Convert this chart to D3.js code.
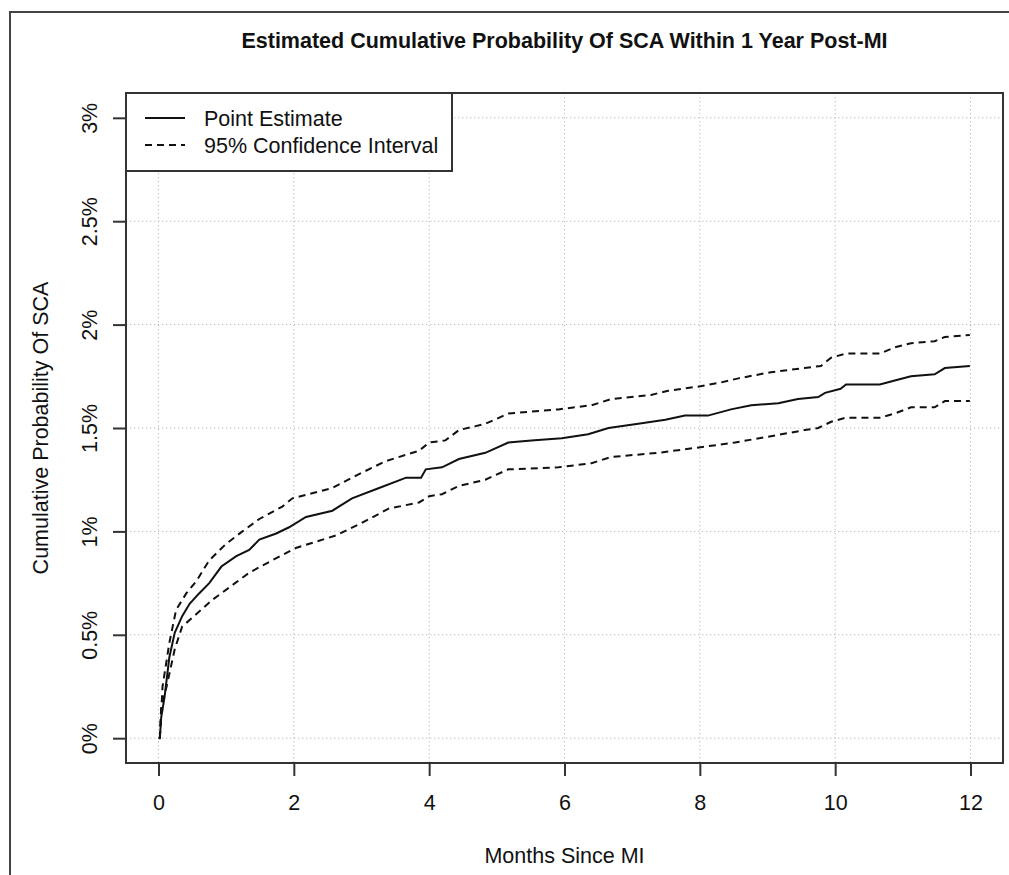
<!DOCTYPE html>
<html>
<head>
<meta charset="utf-8">
<script src="https://cdn.jsdelivr.net/npm/d3@7"></script>
<style>
  body { margin: 0; background: #fff; }
  text { font-family: "Liberation Sans", Arial, sans-serif; fill: #111; }
</style>
</head>
<body>
<script>
var svgWidth = 1009;
var svgHeight = 875;

var chartMargin = {
    top: 93,
    right: 6,
    bottom: 112,
    left: 126
}

var chartWidth = svgWidth - chartMargin.left - chartMargin.right;
var chartHeight = svgHeight - chartMargin.top - chartMargin.bottom;

// data (months since MI, cumulative probability in %)
var estMonths = [0, 0.02, 0.04, 0.09, 0.16, 0.24, 0.35, 0.46, 0.60, 0.75, 0.93, 1.15, 1.34, 1.49, 1.74, 1.93,
    2.18, 2.57, 2.86, 3.26, 3.66, 3.88, 3.95, 4.19, 4.44, 4.83, 5.17, 5.51, 5.96, 6.35, 6.65, 7.09, 7.49, 7.78,
    8.12, 8.46, 8.76, 9.16, 9.45, 9.75, 9.85, 10.08, 10.16, 10.66, 10.88, 11.12, 11.47, 11.62, 11.99];
var estValues = [0, 0, 0.10, 0.20, 0.39, 0.51, 0.59, 0.65, 0.70, 0.75, 0.83, 0.88, 0.91, 0.96, 0.99, 1.02,
    1.07, 1.10, 1.16, 1.21, 1.26, 1.26, 1.30, 1.31, 1.35, 1.38, 1.43, 1.44, 1.45, 1.47, 1.50, 1.52, 1.54, 1.56,
    1.56, 1.59, 1.61, 1.62, 1.64, 1.65, 1.67, 1.69, 1.71, 1.71, 1.73, 1.75, 1.76, 1.79, 1.80];

var upperMonths = [0.02, 0.06, 0.16, 0.26, 0.41, 0.56, 0.75, 1.00, 1.24, 1.49, 1.83, 1.98, 2.57, 2.92, 3.36,
    3.85, 4.00, 4.24, 4.44, 4.83, 5.17, 5.91, 6.40, 6.69, 7.28, 7.53, 7.97, 8.31, 8.57, 9.05, 9.55, 9.79, 9.94,
    10.16, 10.66, 10.88, 11.12, 11.47, 11.62, 11.99];
var upperValues = [0, 0.25, 0.46, 0.62, 0.70, 0.76, 0.86, 0.94, 1.00, 1.06, 1.12, 1.16, 1.21, 1.27, 1.34,
    1.39, 1.43, 1.44, 1.49, 1.52, 1.57, 1.59, 1.61, 1.64, 1.66, 1.68, 1.70, 1.72, 1.74, 1.77, 1.79, 1.80, 1.84,
    1.86, 1.86, 1.89, 1.91, 1.92, 1.94, 1.95];

var lowerMonths = [0.02, 0.04, 0.12, 0.24, 0.35, 0.56, 0.80, 1.05, 1.34, 1.68, 2.03, 2.62, 3.00, 3.40, 3.85,
    4.00, 4.19, 4.44, 4.83, 5.17, 5.91, 6.40, 6.69, 7.39, 8.08, 8.52, 9.05, 9.55, 9.75, 9.94, 10.16, 10.66,
    10.88, 11.12, 11.47, 11.62, 11.99];
var lowerValues = [0, 0.15, 0.25, 0.43, 0.54, 0.60, 0.67, 0.73, 0.80, 0.86, 0.92, 0.98, 1.04, 1.11, 1.14,
    1.17, 1.18, 1.22, 1.25, 1.30, 1.31, 1.33, 1.36, 1.38, 1.41, 1.43, 1.46, 1.49, 1.50, 1.53, 1.55, 1.55,
    1.57, 1.60, 1.60, 1.63, 1.63];

var xTicks = [0, 2, 4, 6, 8, 10, 12];
var yTicks = [0, 0.5, 1, 1.5, 2, 2.5, 3];
var yTickLabels = ["0%", "0.5%", "1%", "1.5%", "2%", "2.5%", "3%"];
var legendLabels = ["Point Estimate", "95% Confidence Interval"];

var svg = d3.select('body').append('svg')
    .attr('width', svgWidth)
    .attr('height', svgHeight);

// outer frame
svg.append("rect")
    .attr("x", 10).attr("y", 12)
    .attr("width", 1010).attr("height", 880)
    .attr("fill", "none")
    .attr("stroke", "#444")
    .attr("stroke-width", 2);

var chartGroup = svg.append("g")
    .attr("transform", `translate(${chartMargin.left}, ${chartMargin.top})`);

// R style: 4% padding on both axes
var xScale = d3.scaleLinear()
    .domain([-0.48, 12.48])
    .range([0, chartWidth]);

var yScale = d3.scaleLinear()
    .domain([-0.12, 3.12])
    .range([chartHeight, 0]);

// grid
chartGroup.append("g").selectAll("line")
    .data(xTicks)
    .enter().append("line")
    .attr("x1", d => xScale(d)).attr("x2", d => xScale(d))
    .attr("y1", 0).attr("y2", chartHeight)
    .attr("stroke", "#bbb")
    .attr("stroke-dasharray", "1.3,2.7");

chartGroup.append("g").selectAll("line")
    .data(yTicks)
    .enter().append("line")
    .attr("x1", 0).attr("x2", chartWidth)
    .attr("y1", d => yScale(d)).attr("y2", d => yScale(d))
    .attr("stroke", "#bbb")
    .attr("stroke-dasharray", "1.3,2.7");

// curves
var line = d3.line()
    .x(d => xScale(d[0]))
    .y(d => yScale(d[1]));

var estData = d3.zip(estMonths, estValues);
var upperData = d3.zip(upperMonths, upperValues);
var lowerData = d3.zip(lowerMonths, lowerValues);

chartGroup.append("path")
    .datum(estData)
    .attr("d", line)
    .attr("fill", "none")
    .attr("stroke", "#111")
    .attr("stroke-width", 2);

[upperData, lowerData].forEach(function(series) {
    chartGroup.append("path")
        .datum(series)
        .attr("d", line)
        .attr("fill", "none")
        .attr("stroke", "#111")
        .attr("stroke-width", 2)
        .attr("stroke-dasharray", "7,5");
});

// axes
var xAxis = chartGroup.append("g")
    .attr("transform", "translate(0," + chartHeight + ")")
    .call(d3.axisBottom(xScale).tickValues(xTicks).tickSize(13).tickPadding(19).tickSizeOuter(0));

var yAxis = chartGroup.append("g")
    .call(d3.axisLeft(yScale).tickValues(yTicks).tickSize(13).tickSizeOuter(0)
        .tickFormat((d, i) => yTickLabels[i]));

xAxis.select(".domain").remove();
yAxis.select(".domain").remove();
xAxis.selectAll(".tick line").attr("stroke", "#333").attr("stroke-width", 2);
yAxis.selectAll(".tick line").attr("stroke", "#333").attr("stroke-width", 2);
xAxis.selectAll("text")
    .style("font-size", "21.5px")
    .style("font-family", "Liberation Sans, Arial, sans-serif")
    .attr("fill", "#111");
yAxis.selectAll("text")
    .style("font-size", "21.5px")
    .style("font-family", "Liberation Sans, Arial, sans-serif")
    .attr("fill", "#111")
    .attr("text-anchor", "middle")
    .attr("dy", 0)
    .attr("x", 0)
    .attr("transform", "translate(-29,0) rotate(-90)");

// plot box
chartGroup.append("rect")
    .attr("width", chartWidth)
    .attr("height", chartHeight)
    .attr("fill", "none")
    .attr("stroke", "#333")
    .attr("stroke-width", 2);

// legend
var legend = chartGroup.append("g");
legend.append("rect")
    .attr("width", 326)
    .attr("height", 78)
    .attr("fill", "#fff")
    .attr("stroke", "#333")
    .attr("stroke-width", 2);

legendLabels.forEach(function(label, i) {
    var ly = 25 + i * 27;
    legend.append("line")
        .attr("x1", 19).attr("x2", 59)
        .attr("y1", ly).attr("y2", ly)
        .attr("stroke", "#111")
        .attr("stroke-width", 2)
        .attr("stroke-dasharray", i == 0 ? null : "7,5");
    legend.append("text")
        .attr("x", 78)
        .attr("y", ly + 8)
        .style("font-size", "21.5px")
        .text(label);
});

// titles
svg.append("text")
    .attr("x", chartMargin.left + chartWidth / 2)
    .attr("y", 48)
    .attr("text-anchor", "middle")
    .style("font-size", "21.5px")
    .style("font-weight", "bold")
    .text("Estimated Cumulative Probability Of SCA Within 1 Year Post-MI");

svg.append("text")
    .attr("x", chartMargin.left + chartWidth / 2)
    .attr("y", 863)
    .attr("text-anchor", "middle")
    .style("font-size", "21.5px")
    .text("Months Since MI");

svg.append("text")
    .attr("transform", `translate(48, ${chartMargin.top + chartHeight / 2}) rotate(-90)`)
    .attr("text-anchor", "middle")
    .style("font-size", "21.5px")
    .text("Cumulative Probability Of SCA");
</script>
</body>
</html>
